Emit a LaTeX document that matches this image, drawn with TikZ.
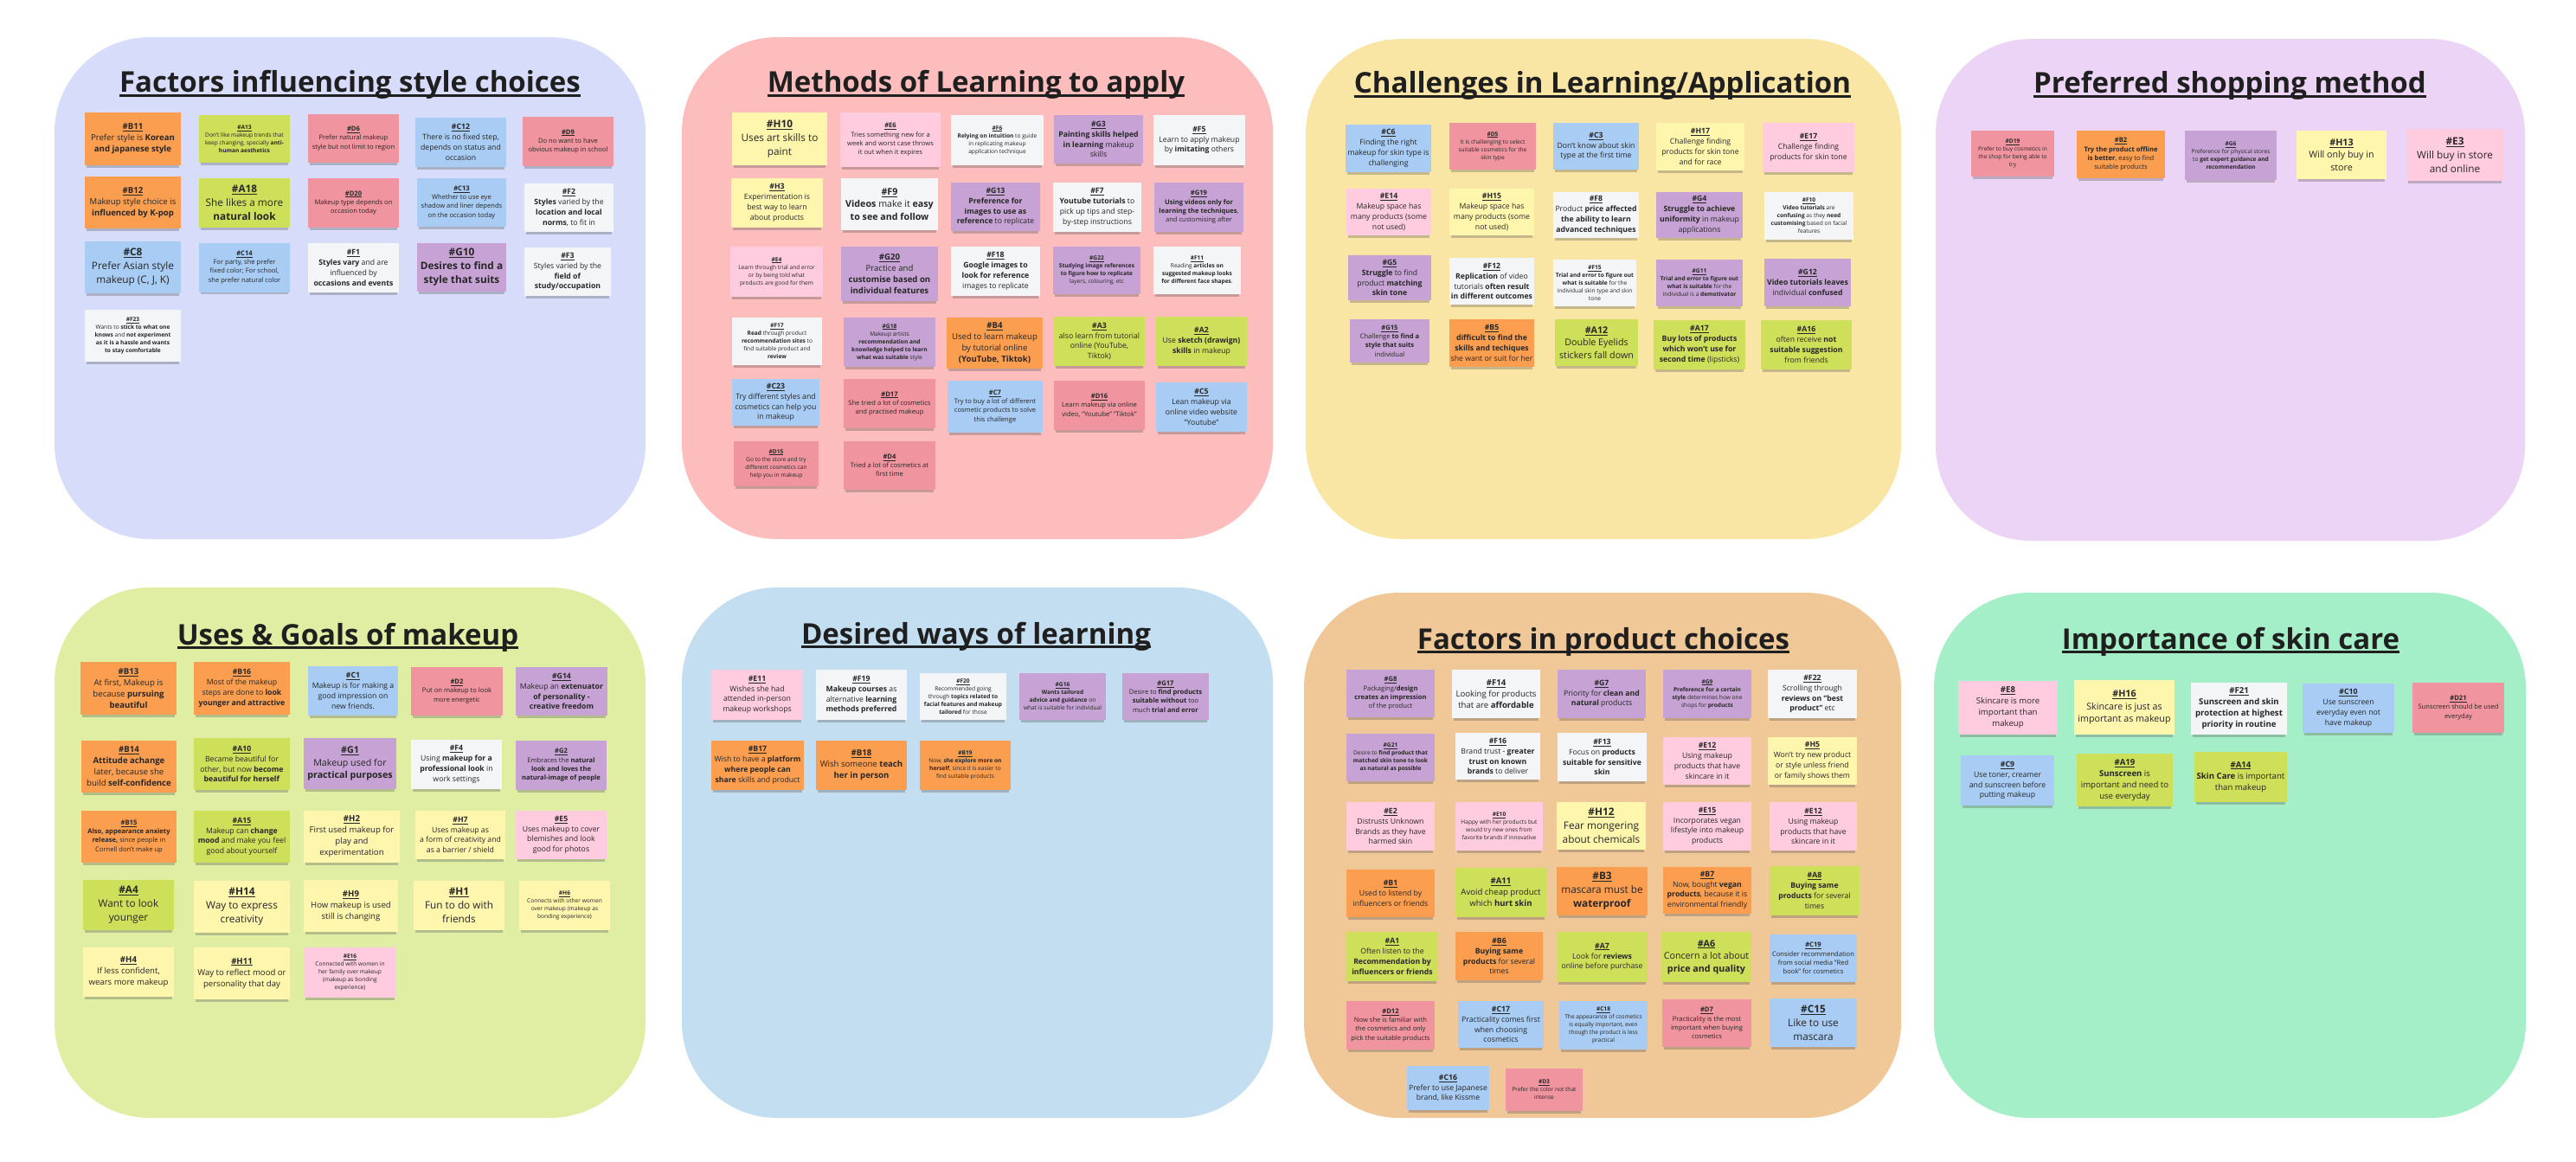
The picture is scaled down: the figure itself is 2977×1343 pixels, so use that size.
\documentclass[tikz,border=0pt]{standalone}
\usepackage{fontspec}
\setmainfont{Open Sans}
\usetikzlibrary{shadows}

\definecolor{pStyle}{HTML}{D6DCFA}
\definecolor{pMethods}{HTML}{FDBDBD}
\definecolor{pChallenges}{HTML}{FAE6A4}
\definecolor{pShopping}{HTML}{ECD4F6}
\definecolor{pUses}{HTML}{E0EEA4}
\definecolor{pDesired}{HTML}{C3DEF0}
\definecolor{pProduct}{HTML}{F0C797}
\definecolor{pSkincare}{HTML}{A5EFC8}

\definecolor{cOrange}{HTML}{FB9E50}
\definecolor{cLime}{HTML}{CEDF5A}
\definecolor{cRose}{HTML}{F0959F}
\definecolor{cPink}{HTML}{FFCCDF}
\definecolor{cYellow}{HTML}{FFF6AE}
\definecolor{cBlue}{HTML}{A8CCF3}
\definecolor{cPurple}{HTML}{C6A3D4}
\definecolor{cWhite}{HTML}{F4F5F7}

\tikzstyle{panel}=[rounded corners=110pt]
\tikzstyle{heading}=[font=\fontsize{33}{40}\selectfont\bfseries, inner sep=0pt, anchor=base, text=black!88]
\tikzstyle{headline}=[line width=3pt, black!88]
\tikzstyle{note}=[rectangle, inner sep=1pt, align=center, text=black!85,
    minimum width=105pt, minimum height=57pt,
    drop shadow={shadow xshift=0pt, shadow yshift=-4pt, shadow scale=0.96, opacity=0.3, fill=black!70}]
\tikzstyle{tinytext}=[font=\fontsize{6.6}{9}\selectfont]
\tikzstyle{smalltext}=[font=\fontsize{7.6}{10.3}\selectfont]
\tikzstyle{midtext}=[font=\fontsize{8.7}{11.8}\selectfont]
\tikzstyle{bigtext}=[font=\fontsize{9.6}{13}\selectfont]
\tikzstyle{largetext}=[font=\fontsize{10.7}{14.5}\selectfont]
\tikzstyle{hugetext}=[font=\fontsize{11.8}{16}\selectfont]
\tikzset{nsize/.style 2 args={minimum width=#1pt, minimum height=#2pt}}

\newcommand{\nid}[1]{\underline{\textbf{\##1}}}

\begin{document}
\begin{tikzpicture}[x=1pt,y=-1pt]

    \fill[white] (0,0) rectangle (2977,1343);
    \useasboundingbox (0,0) rectangle (2977,1343);

    \fill[panel,fill=pStyle]      (63,43)   rectangle (746,623);
    \fill[panel,fill=pMethods]    (788,43)  rectangle (1471,623);
    \fill[panel,fill=pChallenges] (1509,45) rectangle (2197,623);
    \fill[panel,fill=pShopping]   (2237,45) rectangle (2918,625);
    \fill[panel,fill=pUses]       (63,679)  rectangle (746,1292);
    \fill[panel,fill=pDesired]    (788,679) rectangle (1471,1292);
    \fill[panel,fill=pProduct]    (1507,685) rectangle (2197,1292);
    \fill[panel,fill=pSkincare]   (2235,685) rectangle (2919,1292);

    \node[heading] (styletitle)      at (404.5,107) {Factors influencing style choices};
    \node[heading] (methodstitle)    at (1128,107)  {Methods of Learning to apply};
    \node[heading] (challengestitle) at (1852,108)  {Challenges in Learning/Application};
    \node[heading] (shoppingtitle)   at (2577,108)  {Preferred shopping method};
    \node[heading] (usestitle)       at (402,745)   {Uses \& Goals of makeup};
    \node[heading] (desiredtitle)    at (1128,744)  {Desired ways of learning};
    \node[heading] (producttitle)    at (1853,750)  {Factors in product choices};
    \node[heading] (skincaretitle)   at (2578,750)  {Importance of skin care};

    \foreach \t in {styletitle,methodstitle,challengestitle,shoppingtitle,usestitle,desiredtitle,producttitle,skincaretitle}
        \draw[headline] ([yshift=-3.5pt]\t.base west) -- ([yshift=-3.5pt]\t.base east);

    % Factors influencing style choices
    \node[note,fill=cOrange,bigtext,nsize={111}{61}] (b11) at (153.5,160.5) {\nid{B11}\\Prefer style is \textbf{Korean}\\\textbf{and japanese style}};
    \node[note,fill=cLime,tinytext,nsize={105}{55}] (a13) at (282.5,160.5) {\nid{A13}\\Don't like makeup trends that\\keep changing, specially \textbf{anti-}\\\textbf{human aesthetics}};
    \node[note,fill=cRose,smalltext,nsize={105}{56}] (d6) at (408.5,160) {\nid{D6}\\Prefer natural makeup\\style but not limit to region};
    \node[note,fill=cBlue,midtext] (c12) at (532.5,164.5) {\nid{C12}\\There is no fixed step,\\depends on status and\\occasion};
    \node[note,fill=cRose,smalltext] (d9) at (656.5,163.5) {\nid{D9}\\Do no want to have\\obvious makeup in school};
    \node[note,fill=cOrange,bigtext,nsize={111}{60}] (b12) at (153.5,234) {\nid{B12}\\Makeup style choice is\\\textbf{influenced by K-pop}};
    \node[note,fill=cLime,hugetext] (a18) at (282.5,234.5) {\nid{A18}\\She likes a more\\\textbf{natural look}};
    \node[note,fill=cRose,smalltext] (d20) at (408.5,234.5) {\nid{D20}\\Makeup type depends on\\occasion today};
    \node[note,fill=cBlue,smalltext,nsize={103}{56}] (c13) at (533.5,234) {\nid{C13}\\Whether to use eye\\shadow and liner depends\\on the occasion today};
    \node[note,fill=cWhite,midtext,nsize={103}{56}] (f2) at (657.5,240) {\nid{F2}\\\textbf{Styles} varied by the\\\textbf{location and local}\\\textbf{norms}, to fit in};
    \node[note,fill=cBlue,hugetext,nsize={111}{60}] (c8) at (153.5,309) {\nid{C8}\\Prefer Asian style\\makeup (C, J, K)};
    \node[note,fill=cBlue,smalltext] (c14) at (282.5,309) {\nid{C14}\\For party, she prefer\\fixed color; For school,\\she prefer natural color};
    \node[note,fill=cWhite,midtext] (f1) at (408.5,309.5) {\nid{F1}\\\textbf{Styles vary} and are\\influenced by\\\textbf{occasions and events}};
    \node[note,fill=cPurple,hugetext,nsize={103}{56}] (g10) at (533.5,309) {\nid{G10}\\\textbf{Desires to find a}\\\textbf{style that suits}};
    \node[note,fill=cWhite,midtext,nsize={100}{56}] (f3) at (656,314) {\nid{F3}\\Styles varied by the\\\textbf{field of}\\\textbf{study/occupation}};
    \node[note,fill=cWhite,tinytext,nsize={111}{60}] (f23) at (153.5,388) {\nid{F23}\\Wants to \textbf{stick to what one}\\\textbf{knows} and \textbf{not experiment}\\\textbf{as it is a hassle and wants}\\\textbf{to stay comfortable}};

    % Methods of Learning to apply
    \node[note,fill=cYellow,hugetext,nsize={110}{61}] (h10) at (901,160.5) {\nid{H10}\\Uses art skills to\\paint};
    \node[note,fill=cPink,smalltext,nsize={116}{63}] (e6) at (1029,161.5) {\nid{E6}\\Tries something new for a\\week and worst case throws\\it out when it expires};
    \node[note,fill=cWhite,tinytext,nsize={107}{58}] (f6) at (1152.5,162) {\nid{F6}\\\textbf{Relying on intuition} to guide\\in replicating makeup\\application technique};
    \node[note,fill=cPurple,midtext,nsize={103}{56}] (g3) at (1269.5,161) {\nid{G3}\\\textbf{Painting skills helped}\\\textbf{in learning} makeup\\skills};
    \node[note,fill=cWhite,midtext,nsize={106}{58}] (f5) at (1386,162) {\nid{F5}\\Learn to apply makeup\\by \textbf{imitating} others};
    \node[note,fill=cYellow,midtext,nsize={106}{57}] (h3) at (898,234.5) {\nid{H3}\\Experimentation is\\best way to learn\\about products};
    \node[note,fill=cWhite,largetext,nsize={112}{60}] (f9) at (1028,236) {\nid{F9}\\\textbf{Videos} make it \textbf{easy}\\\textbf{to see and follow}};
    \node[note,fill=cPurple,midtext,nsize={103}{56}] (g13) at (1150.5,239) {\nid{G13}\\\textbf{Preference for}\\\textbf{images to use as}\\\textbf{reference} to replicate};
    \node[note,fill=cWhite,midtext,nsize={102}{57}] (f7) at (1268,239.5) {\nid{F7}\\\textbf{Youtube tutorials} to\\pick up tips and step-\\by-step instructions};
    \node[note,fill=cPurple,smalltext,nsize={103}{57}] (g19) at (1385.5,239.5) {\nid{G19}\\\textbf{Using videos only for}\\\textbf{learning the techniques},\\and customising after};
    \node[note,fill=cPink,tinytext,nsize={107}{58}] (e4) at (897.5,314) {\nid{E4}\\Learn through trial and error\\or by being told what\\products are good for them};
    \node[note,fill=cPurple,bigtext,nsize={112}{63}] (g20) at (1028,316.5) {\nid{G20}\\Practice and\\\textbf{customise based on}\\\textbf{individual features}};
    \node[note,fill=cWhite,midtext,nsize={103}{57}] (f18) at (1150.5,313.5) {\nid{F18}\\\textbf{Google images to}\\\textbf{look for reference}\\images to replicate};
    \node[note,fill=cPurple,tinytext,nsize={101}{55}] (g22) at (1267.5,312.5) {\nid{G22}\\\textbf{Studying image references}\\\textbf{to figure how to replicate}\\layers, colouring, etc};
    \node[note,fill=cWhite,tinytext,nsize={101}{55}] (f11) at (1383.5,312.5) {\nid{F11}\\Reading \textbf{articles on}\\\textbf{suggested makeup looks}\\\textbf{for different face shapes}.};
    \node[note,fill=cWhite,tinytext,nsize={104}{55}] (f17) at (898,394.5) {\nid{F17}\\\textbf{Read} through product\\\textbf{recommendation sites} to\\find suitable product and\\\textbf{review}};
    \node[note,fill=cPurple,tinytext,nsize={106}{57}] (g18) at (1028,395.5) {\nid{G18}\\Makeup artists\\\textbf{recommendation and}\\\textbf{knowledge helped to learn}\\\textbf{what was suitable} style};
    \node[note,fill=cOrange,bigtext,nsize={111}{59}] (b4) at (1149.5,396.5) {\nid{B4}\\Used to learn makeup\\by tutorial online\\\textbf{(YouTube, Tiktok)}};
    \node[note,fill=cLime,midtext] (a3) at (1270.5,394.5) {\nid{A3}\\also learn from tutorial\\online (YouTube,\\Tiktok)};
    \node[note,fill=cLime,midtext] (a2) at (1388.5,394.5) {\nid{A2}\\Use \textbf{sketch (drawign)}\\\textbf{skills} in makeup};
    \node[note,fill=cBlue,midtext,nsize={101}{54}] (c23) at (896.5,465) {\nid{C23}\\Try different styles and\\cosmetics can help you\\in makeup};
    \node[note,fill=cRose,smalltext,nsize={106}{57}] (d17) at (1028,466.5) {\nid{D17}\\She tried a lot of cosmetics\\and practised makeup};
    \node[note,fill=cBlue,smalltext,nsize={110}{60}] (c7) at (1150,470) {\nid{C7}\\Try to buy a lot of different\\cosmetic products to solve\\this challenge};
    \node[note,fill=cRose,smalltext] (d16) at (1270.5,468.5) {\nid{D16}\\Learn makeup via online\\video, "Youtube" "Tiktok"};
    \node[note,fill=cBlue,midtext] (c5) at (1388.5,470.5) {\nid{C5}\\Lean makeup via\\online video website\\"Youtube"};
    \node[note,fill=cRose,tinytext,nsize={98}{52}] (d15) at (897,536) {\nid{D15}\\Go to the store and try\\different cosmetics can\\help you in makeup};
    \node[note,fill=cRose,smalltext,nsize={106}{56}] (d4) at (1028,538) {\nid{D4}\\Tried a lot of cosmetics at\\first time};

    % Challenges in Learning/Application
    \node[note,fill=cBlue,midtext,nsize={99}{55}] (c6) at (1604.5,171.5) {\nid{C6}\\Finding the right\\makeup for skin type is\\challenging};
    \node[note,fill=cRose,tinytext,nsize={100}{54}] (d5) at (1725,169) {\nid{D5}\\It is challenging to select\\suitable cosmetics for the\\skin type};
    \node[note,fill=cBlue,midtext,nsize={99}{54}] (c3) at (1844.5,169) {\nid{C3}\\Don't know about skin\\type at the first time};
    \node[note,fill=cYellow,midtext,nsize={102}{55}] (h17) at (1965,169.5) {\nid{H17}\\Challenge finding\\products for skin tone\\and for race};
    \node[note,fill=cPink,midtext,nsize={106}{57}] (e17) at (2090,170.5) {\nid{E17}\\Challenge finding\\products for skin tone};
    \node[note,fill=cPink,midtext,nsize={98}{54}] (e14) at (1605,245) {\nid{E14}\\Makeup space has\\many products (some\\not used)};
    \node[note,fill=cYellow,midtext,nsize={98}{54}] (h15) at (1724,245) {\nid{H15}\\Makeup space has\\many products (some\\not used)};
    \node[note,fill=cWhite,midtext,nsize={99}{53}] (f8) at (1844.5,248.5) {\nid{F8}\\Product \textbf{price affected}\\\textbf{the ability to learn}\\\textbf{advanced techniques}};
    \node[note,fill=cPurple,midtext,nsize={100}{53}] (g4) at (1964,248.5) {\nid{G4}\\\textbf{Struggle to achieve}\\\textbf{uniformity} in makeup\\applications};
    \node[note,fill=cWhite,tinytext,nsize={103}{55}] (f10) at (2090.5,249.5) {\nid{F10}\\\textbf{Video tutorials} are\\\textbf{confusing} as they \textbf{need}\\\textbf{customising} based on facial\\features};
    \node[note,fill=cPurple,midtext,nsize={96}{52}] (g5) at (1606,321) {\nid{G5}\\\textbf{Struggle} to find\\product \textbf{matching}\\\textbf{skin tone}};
    \node[note,fill=cWhite,midtext,nsize={98}{54}] (f12) at (1724,325) {\nid{F12}\\\textbf{Replication} of video\\tutorials \textbf{often result}\\\textbf{in different outcomes}};
    \node[note,fill=cWhite,tinytext,nsize={96}{54}] (f15) at (1843,327) {\nid{F15}\\\textbf{Trial and error to figure out}\\\textbf{what is suitable} for the\\individual skin type and skin\\tone};
    \node[note,fill=cPurple,tinytext,nsize={100}{54}] (g11) at (1964,327) {\nid{G11}\\\textbf{Trial and error to figure out}\\\textbf{what is suitable} for the\\individual is a \textbf{demotivator}};
    \node[note,fill=cPurple,midtext,nsize={100}{55}] (g12) at (2089,326.5) {\nid{G12}\\\textbf{Video tutorials leaves}\\individual \textbf{confused}};
    \node[note,fill=cPurple,smalltext,nsize={92}{50}] (g15) at (1606,394) {\nid{G15}\\Challenge \textbf{to find a}\\\textbf{style that suits}\\individual};
    \node[note,fill=cOrange,midtext,nsize={98}{55}] (b5) at (1724,396.5) {\nid{B5}\\\textbf{difficult to find the}\\\textbf{skills and techiques}\\she want or suit for her};
    \node[note,fill=cLime,largetext,nsize={96}{54}] (a12) at (1845,396) {\nid{A12}\\Double Eyelids\\stickers fall down};
    \node[note,fill=cLime,midtext,nsize={106}{57}] (a17) at (1964,398.5) {\nid{A17}\\\textbf{Buy lots of products}\\\textbf{which won't use for}\\\textbf{second time} (lipsticks)};
    \node[note,fill=cLime,midtext] (a16) at (2087.5,398.5) {\nid{A16}\\often receive \textbf{not}\\\textbf{suitable suggestion}\\from friends};

    % Preferred shopping method
    \node[note,fill=cRose,tinytext,nsize={96}{53}] (d19) at (2326,177.5) {\nid{D19}\\Prefer to buy cosmetics in\\the shop for being able to\\try};
    \node[note,fill=cOrange,smalltext,nsize={102}{55}] (b2) at (2451,178.5) {\nid{B2}\\\textbf{Try the product offline}\\\textbf{is better}, easy to find\\suitable products};
    \node[note,fill=cPurple,tinytext,nsize={106}{57}] (g6) at (2578,179.5) {\nid{G6}\\Preference for physical stores\\to \textbf{get expert guidance and}\\\textbf{recommendation}};
    \node[note,fill=cYellow,largetext,nsize={104}{56}] (h13) at (2706,179) {\nid{H13}\\Will only buy in\\store};
    \node[note,fill=cPink,hugetext,nsize={112}{60}] (e3) at (2837,179) {\nid{E3}\\Will buy in store\\and online};

    % Uses & Goals of makeup
    \node[note,fill=cOrange,bigtext,nsize={111}{61}] (b13) at (148.5,795.5) {\nid{B13}\\At first, Makeup is\\because \textbf{pursuing}\\\textbf{beautiful}};
    \node[note,fill=cOrange,midtext,nsize={111}{61}] (b16) at (279.5,795.5) {\nid{B16}\\Most of the makeup\\steps are done to \textbf{look}\\\textbf{younger and attractive}};
    \node[note,fill=cBlue,midtext,nsize={104}{57}] (c1) at (408,798.5) {\nid{C1}\\Makeup is for making a\\good impression on\\new friends.};
    \node[note,fill=cRose,smalltext,nsize={106}{56}] (d2) at (528,799) {\nid{D2}\\Put on makeup to look\\more energetic};
    \node[note,fill=cPurple,midtext,nsize={106}{56}] (g14) at (649,799) {\nid{G14}\\Makeup an \textbf{extenuator}\\\textbf{of personality -}\\\textbf{creative freedom}};
    \node[note,fill=cOrange,bigtext,nsize={110}{60}] (b14) at (149,886) {\nid{B14}\\\textbf{Attitude achange}\\later, because she\\build \textbf{self-confidence}};
    \node[note,fill=cLime,midtext,nsize={111}{60}] (a10) at (279.5,883) {\nid{A10}\\Became beautiful for\\other, but now \textbf{become}\\\textbf{beautiful for herself}};
    \node[note,fill=cPurple,largetext,nsize={107}{59}] (g1) at (404.5,882.5) {\nid{G1}\\Makeup used for\\\textbf{practical purposes}};
    \node[note,fill=cWhite,midtext] (f4) at (527.5,883.5) {\nid{F4}\\Using \textbf{makeup for a}\\\textbf{professional look} in\\work settings};
    \node[note,fill=cPurple,smalltext] (g2) at (648.5,884.5) {\nid{G2}\\Embraces the \textbf{natural}\\\textbf{look and loves the}\\\textbf{natural-image of people}};
    \node[note,fill=cOrange,smalltext,nsize={110}{60}] (b15) at (149,967) {\nid{B15}\\\textbf{Also, appearance anxiety}\\\textbf{release,} since people in\\Cornell don't make up};
    \node[note,fill=cLime,midtext,nsize={111}{60}] (a15) at (279.5,967) {\nid{A15}\\Makeup can \textbf{change}\\\textbf{mood} and make you feel\\good about yourself};
    \node[note,fill=cYellow,bigtext,nsize={111}{60}] (h2) at (406.5,967) {\nid{H2}\\First used makeup for\\play and\\experimentation};
    \node[note,fill=cYellow,midtext,nsize={104}{56}] (h7) at (532,965) {\nid{H7}\\Uses makeup as\\a form of creativity and\\as a barrier / shield};
    \node[note,fill=cPink,midtext,nsize={105}{56}] (e5) at (648.5,965) {\nid{E5}\\Uses makeup to cover\\blemishes and look\\good for photos};
    \node[note,fill=cLime,hugetext,nsize={105}{58}] (a4) at (148.5,1046) {\nid{A4}\\Want to look\\younger};
    \node[note,fill=cYellow,hugetext,nsize={111}{60}] (h14) at (279.5,1048) {\nid{H14}\\Way to express\\creativity};
    \node[note,fill=cYellow,bigtext,nsize={109}{60}] (h9) at (405.5,1047) {\nid{H9}\\How makeup is used\\still is changing};
    \node[note,fill=cYellow,hugetext] (h1) at (530.5,1046.5) {\nid{H1}\\Fun to do with\\friends};
    \node[note,fill=cYellow,tinytext] (h6) at (652.5,1046.5) {\nid{H6}\\Connects with other women\\over makeup (makeup as\\bonding experience)};
    \node[note,fill=cYellow,bigtext] (h4) at (148.5,1123.5) {\nid{H4}\\If less confident,\\wears more makeup};
    \node[note,fill=cYellow,bigtext,nsize={111}{60}] (h11) at (279.5,1125) {\nid{H11}\\Way to reflect mood or\\personality that day};
    \node[note,fill=cPink,tinytext,nsize={107}{58}] (e16) at (404.5,1124) {\nid{E16}\\Connected with women in\\her family over makeup\\(makeup as bonding\\experience)};

    % Desired ways of learning
    \node[note,fill=cPink,midtext,nsize={106}{58}] (e11) at (875,803) {\nid{E11}\\Wishes she had\\attended in-person\\makeup workshops};
    \node[note,fill=cWhite,midtext,nsize={105}{58}] (f19) at (995.5,803) {\nid{F19}\\\textbf{Makeup courses} as\\alternative \textbf{learning}\\\textbf{methods preferred}};
    \node[note,fill=cWhite,tinytext,nsize={100}{54}] (f20) at (1113,805) {\nid{F20}\\Recommended going\\through \textbf{topics related to}\\\textbf{facial features and makeup}\\\textbf{tailored} for those};
    \node[note,fill=cPurple,tinytext,nsize={100}{54}] (g16) at (1228,805) {\nid{G16}\\\textbf{Wants tailored}\\\textbf{advice and guidance} on\\what is suitable for individual};
    \node[note,fill=cPurple,smalltext,nsize={100}{54}] (g17) at (1347,805) {\nid{G17}\\Desire to \textbf{find products}\\\textbf{suitable without} too\\much \textbf{trial and error}};
    \node[note,fill=cOrange,midtext,nsize={107}{57}] (b17) at (875.5,884.5) {\nid{B17}\\Wish to have a \textbf{platform}\\\textbf{where people can}\\\textbf{share} skills and product};
    \node[note,fill=cOrange,bigtext] (b18) at (995.5,884.5) {\nid{B18}\\Wish someone \textbf{teach}\\\textbf{her in person}};
    \node[note,fill=cOrange,tinytext] (b19) at (1115.5,884.5) {\nid{B19}\\Now, \textbf{she explore more on}\\\textbf{herself}, since it is easier to\\find suitable products};

    % Factors in product choices
    \node[note,fill=cPurple,smalltext,nsize={102}{55}] (g8) at (1607,801.5) {\nid{G8}\\Packaging/\textbf{design}\\\textbf{creates an impression}\\of the product};
    \node[note,fill=cWhite,bigtext,nsize={102}{56}] (f14) at (1729,802) {\nid{F14}\\Looking for products\\that are \textbf{affordable}};
    \node[note,fill=cPurple,midtext,nsize={102}{56}] (g7) at (1851,802) {\nid{G7}\\Priority for \textbf{clean and}\\\textbf{natural} products};
    \node[note,fill=cPurple,tinytext,nsize={102}{56}] (g9) at (1973,802) {\nid{G9}\\\textbf{Preference for a certain}\\\textbf{style} determines how one\\shops for \textbf{products}};
    \node[note,fill=cWhite,midtext,nsize={103}{56}] (f22) at (2094.5,802) {\nid{F22}\\Scrolling through\\\textbf{reviews on "best}\\\textbf{product"} etc};
    \node[note,fill=cPurple,tinytext,nsize={102}{55}] (g21) at (1607,875.5) {\nid{G21}\\Desire to \textbf{find product that}\\\textbf{matched skin tone to look}\\\textbf{as natural as possible}};
    \node[note,fill=cWhite,midtext,nsize={98}{54}] (f16) at (1731,874) {\nid{F16}\\Brand trust - \textbf{greater}\\\textbf{trust on known}\\\textbf{brands} to deliver};
    \node[note,fill=cWhite,midtext,nsize={103}{56}] (f13) at (1851.5,875) {\nid{F13}\\Focus on \textbf{products}\\\textbf{suitable for sensitive}\\\textbf{skin}};
    \node[note,fill=cPink,midtext,nsize={102}{55}] (e12) at (1973,879.5) {\nid{E12}\\Using makeup\\products that have\\skincare in it};
    \node[note,fill=cYellow,midtext,nsize={103}{55}] (h5) at (2094.5,879.5) {\nid{H5}\\Won't try new product\\or style unless friend\\or family shows them};
    \node[note,fill=cPink,midtext,nsize={102}{56}] (e2) at (1607,955) {\nid{E2}\\Distrusts Unknown\\Brands as they have\\harmed skin};
    \node[note,fill=cPink,tinytext,nsize={101}{56}] (e10) at (1732.5,955) {\nid{E10}\\Happy with her products but\\would try new ones from\\favorite brands if innovative};
    \node[note,fill=cYellow,hugetext,nsize={103}{55}] (h12) at (1850.5,954.5) {\nid{H12}\\Fear mongering\\about chemicals};
    \node[note,fill=cPink,midtext,nsize={102}{56}] (e15) at (1973,955) {\nid{E15}\\Incorporates vegan\\lifestyle into makeup\\products};
    \node[note,fill=cPink,midtext,nsize={101}{56}] (e12b) at (2095.5,955) {\nid{E12}\\Using makeup\\products that have\\skincare in it};
    \node[note,fill=cOrange,midtext,nsize={102}{55}] (b1) at (1607,1032.5) {\nid{B1}\\Used to listend by\\influencers or friends};
    \node[note,fill=cLime,bigtext] (a11) at (1734.5,1031.5) {\nid{A11}\\Avoid cheap product\\which \textbf{hurt skin}};
    \node[note,fill=cOrange,hugetext,nsize={105}{56}] (b3) at (1851.5,1030) {\nid{B3}\\mascara must be\\\textbf{waterproof}};
    \node[note,fill=cOrange,midtext,nsize={102}{54}] (b7) at (1973,1029) {\nid{B7}\\Now, bought \textbf{vegan}\\\textbf{products}, because it is\\environmental friendly};
    \node[note,fill=cLime,midtext,nsize={104}{57}] (a8) at (2097,1029.5) {\nid{A8}\\\textbf{Buying same}\\\textbf{products} for several\\times};
    \node[note,fill=cLime,midtext,nsize={106}{57}] (a1) at (1609,1105.5) {\nid{A1}\\Often listen to the\\\textbf{Recommendation by}\\\textbf{influencers or friends}};
    \node[note,fill=cOrange,midtext,nsize={101}{56}] (b6) at (1732.5,1105) {\nid{B6}\\\textbf{Buying same}\\\textbf{products} for several\\times};
    \node[note,fill=cLime,midtext,nsize={105}{58}] (a7) at (1851.5,1106) {\nid{A7}\\Look for \textbf{reviews}\\online before purchase};
    \node[note,fill=cLime,largetext,nsize={104}{58}] (a6) at (1972,1106) {\nid{A6}\\Concern a lot about\\\textbf{price and quality}};
    \node[note,fill=cBlue,smalltext,nsize={101}{55}] (c19) at (2095.5,1107.5) {\nid{C19}\\Consider recommendation\\from social media "Red\\book" for cosmetics};
    \node[note,fill=cRose,smalltext,nsize={102}{56}] (d12) at (1607,1185) {\nid{D12}\\Now she is familiar with\\the cosmetics and only\\pick the suitable products};
    \node[note,fill=cBlue,midtext,nsize={99}{54}] (c17) at (1734.5,1184) {\nid{C17}\\Practicality comes first\\when choosing\\cosmetics};
    \node[note,fill=cBlue,tinytext,nsize={102}{56}] (c18) at (1853,1185) {\nid{C18}\\The appearance of cosmetics\\is equally important, even\\though the product is less\\practical};
    \node[note,fill=cRose,smalltext,nsize={103}{55}] (d7) at (1972.5,1182.5) {\nid{D7}\\Practicality is the most\\important when buying\\cosmetics};
    \node[note,fill=cBlue,hugetext,nsize={101}{56}] (c15) at (2095.5,1182) {\nid{C15}\\Like to use\\mascara};
    \node[note,fill=cBlue,midtext,nsize={95}{51}] (c16) at (1673.5,1257.5) {\nid{C16}\\Prefer to use Japanese\\brand, like Kissme};
    \node[note,fill=cRose,tinytext,nsize={89}{49}] (d3) at (1784.5,1259.5) {\nid{D3}\\Prefer the color not that\\intense};

    % Importance of skin care
    \node[note,fill=cPink,bigtext,nsize={115}{62}] (e8) at (2320.5,818) {\nid{E8}\\Skincare is more\\important than\\makeup};
    \node[note,fill=cYellow,largetext,nsize={116}{63}] (h16) at (2455,817.5) {\nid{H16}\\Skincare is just as\\important as makeup};
    \node[note,fill=cWhite,bigtext,nsize={111}{60}] (f21) at (2587.5,819) {\nid{F21}\\\textbf{Sunscreen and skin}\\\textbf{protection at highest}\\\textbf{priority in routine}};
    \node[note,fill=cBlue,midtext,nsize={106}{57}] (c10) at (2714,818.5) {\nid{C10}\\Use sunscreen\\everyday even not\\have makeup};
    \node[note,fill=cRose,smalltext,nsize={106}{58}] (d21) at (2841,818) {\nid{D21}\\Sunscreen should be used\\everyday};
    \node[note,fill=cBlue,midtext,nsize={108}{58}] (c9) at (2320,902) {\nid{C9}\\Use toner, creamer\\and sunscreen before\\putting makeup};
    \node[note,fill=cLime,bigtext,nsize={111}{61}] (a19) at (2455.5,901.5) {\nid{A19}\\\textbf{Sunscreen} is\\important and need to\\use everyday};
    \node[note,fill=cLime,bigtext,nsize={107}{58}] (a14) at (2589.5,898) {\nid{A14}\\\textbf{Skin Care} is important\\than makeup};

\end{tikzpicture}
\end{document}
